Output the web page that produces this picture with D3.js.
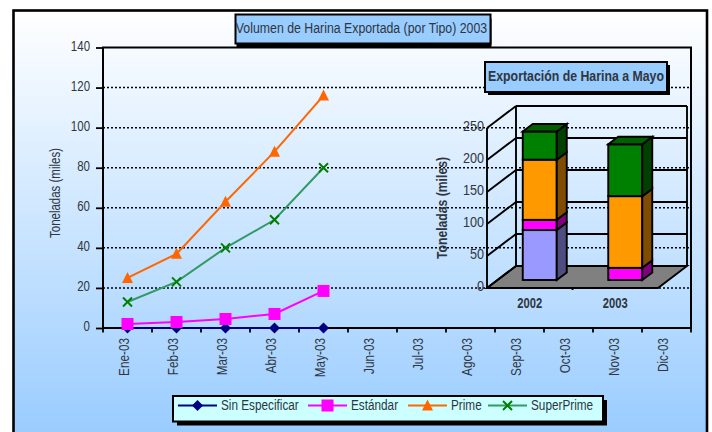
<!doctype html>
<html>
<head>
	<title>harina</title>
	<meta charset="utf-8">
	<script type="text/javascript" src="https://cdn.jsdelivr.net/npm/d3@7"></script>
	<style>
		body { margin: 0; background: #fff; }
		text { font-family: "Liberation Sans", sans-serif; fill: #2f3640; }
	</style>
</head>
<body>
<script type="text/javascript">
var months = ["Ene-03", "Feb-03", "Mar-03", "Abr-03", "May-03", "Jun-03", "Jul-03", "Ago-03", "Sep-03", "Oct-03", "Nov-03", "Dic-03"]
var sinEspecificar = [0, 0, 0, 0, 0]
var estandar = [2, 3, 4.5, 7, 18.5]
var prime = [25, 37, 63, 88, 116]
var superPrime = [13, 23, 40, 54, 80]
var yTicks = [0, 20, 40, 60, 80, 100, 120, 140]

var years = ["2002", "2003"]
var inTicks = [0, 50, 100, 150, 200, 250]
var sinByYear = [78, 0]
var estandarByYear = [16, 19]
var primeByYear = [94, 112]
var superByYear = [44, 81]

var width = 712
var height = 432
var svg = d3.select("body").append("svg")
	.attr("width", width)
	.attr("height", height)
	.style("display", "block")

// the original font is a narrow sans, squeeze the glyphs to get it
function narrow(sel, ratio) {
	sel.each(function() {
		this.setAttribute("textLength", this.getComputedTextLength() * ratio)
		this.setAttribute("lengthAdjust", "spacingAndGlyphs")
	})
}

var defs = svg.append("defs")
var grad = defs.append("linearGradient")
	.attr("id", "bg")
	.attr("x1", 0).attr("y1", 0).attr("x2", 0).attr("y2", 1)
grad.append("stop").attr("offset", "0").attr("stop-color", "#ffffff")
grad.append("stop").attr("offset", "1").attr("stop-color", "#99ccff")

// outer frame, runs off the bottom of the picture
svg.append("rect")
	.attr("x", 13.5).attr("y", 10.5)
	.attr("width", 693.5).attr("height", 425)
	.attr("fill", "url(#bg)")
	.attr("stroke", "#000")
	.attr("stroke-width", 2.6)

// main chart
var x = d3.scaleBand().domain(months).range([103, 691])
var y = d3.scaleLinear().domain([0, 140]).range([328, 47.5])

var grid = svg.append("g")
grid.selectAll("line")
	.data(yTicks.slice(1, -1))
	.enter()
	.append("line")
	.attr("x1", 103)
	.attr("x2", 691)
	.attr("y1", function(d) { return y(d) })
	.attr("y2", function(d) { return y(d) })
	.attr("stroke", "#000")
	.attr("stroke-width", 1.5)
	.attr("stroke-dasharray", "2 2")

svg.append("rect")
	.attr("x", 103).attr("y", y(140))
	.attr("width", 588).attr("height", y(0) - y(140))
	.attr("fill", "none")
	.attr("stroke", "#000")
	.attr("stroke-width", 2)

var yAxis = svg.append("g")
	.attr("transform", "translate(103,0)")
	.call(d3.axisLeft(y).tickValues(yTicks).tickSize(7).tickPadding(6))
yAxis.select(".domain").remove()
yAxis.selectAll("line").attr("stroke", "#000").attr("stroke-width", 1.8)
yAxis.selectAll("text").attr("font-size", 14).attr("dy", "0.18em").call(narrow, 0.82)

// x ticks sit on the band edges, so they are not the axis' own
svg.append("g").selectAll("line")
	.data(months)
	.enter()
	.append("line")
	.attr("x1", function(d) { return x(d) })
	.attr("x2", function(d) { return x(d) })
	.attr("y1", 328)
	.attr("y2", 332.5)
	.attr("stroke", "#000")
	.attr("stroke-width", 1.8)
svg.append("line")
	.attr("x1", 691).attr("x2", 691).attr("y1", 328).attr("y2", 332.5)
	.attr("stroke", "#000").attr("stroke-width", 1.8)

svg.append("g").selectAll("text")
	.data(months)
	.enter()
	.append("text")
	.attr("transform", function(d) {
		return "translate(" + (x(d) + x.bandwidth() / 2 + 1.5) + ",338) rotate(-90)"
	})
	.attr("text-anchor", "end")
	.attr("font-size", 14)
	.text(function(d) { return d })
	.call(narrow, 0.84)

svg.append("text")
	.attr("transform", "translate(60,193) rotate(-90)")
	.attr("text-anchor", "middle")
	.attr("font-size", 14)
	.text("Toneladas (miles)")
	.call(narrow, 0.82)

var line = d3.line()
	.x(function(d, i) { return x(months[i]) + x.bandwidth() / 2 })
	.y(function(d) { return y(d) })

function marker(g, type, color) {
	if (type == "diamond") {
		g.append("path").attr("d", "M0,-5.5L5.5,0L0,5.5L-5.5,0Z").attr("fill", color)
	}
	if (type == "square") {
		g.append("rect").attr("x", -6).attr("y", -6).attr("width", 12).attr("height", 12).attr("fill", color)
	}
	if (type == "triangle") {
		g.append("path").attr("d", "M0,-6L5.5,5L-5.5,5Z").attr("fill", color)
	}
	if (type == "cross") {
		g.append("path").attr("d", "M-4.5,-4.5L4.5,4.5M4.5,-4.5L-4.5,4.5").attr("stroke", color).attr("stroke-width", 2).attr("fill", "none")
	}
}

var seriesList = [
	{name: "Sin Especificar", values: sinEspecificar, color: "#000080", mark: "diamond", markColor: "#000080"},
	{name: "Estándar", values: estandar, color: "#ff00ff", mark: "square", markColor: "#ff00ff"},
	{name: "Prime", values: prime, color: "#ff6600", mark: "triangle", markColor: "#ff6600"},
	{name: "SuperPrime", values: superPrime, color: "#339966", mark: "cross", markColor: "#008000"}
]

seriesList.forEach(function(s) {
	svg.append("path")
		.attr("d", line(s.values))
		.attr("fill", "none")
		.attr("stroke", s.color)
		.attr("stroke-width", 2)
	s.values.forEach(function(v, i) {
		var g = svg.append("g")
			.attr("transform", "translate(" + (x(months[i]) + x.bandwidth() / 2) + "," + y(v) + ")")
		marker(g, s.mark, s.markColor)
	})
})

// boxes with a hard black shadow
function box(bx, by, bw, bh, fill, sx, sy) {
	svg.append("rect").attr("x", bx + sx).attr("y", by + sy).attr("width", bw).attr("height", bh).attr("fill", "#000")
	svg.append("rect").attr("x", bx).attr("y", by).attr("width", bw).attr("height", bh)
		.attr("fill", fill).attr("stroke", "#000").attr("stroke-width", 2)
}

box(235.5, 14.5, 255, 29, "#99ccff", 1, 4)
svg.append("text")
	.attr("x", 361.5).attr("y", 33)
	.attr("text-anchor", "middle")
	.attr("font-size", 14)
	.text("Volumen de Harina Exportada (por Tipo) 2003")
	.call(narrow, 0.88)

// legend
box(173, 396, 430, 25.5, "#ccffff", 4, 4)
var legendItems = svg.append("g").selectAll("g")
	.data(seriesList)
	.enter()
	.append("g")
	.attr("transform", function(d, i) {
		return "translate(" + [178, 308, 408, 488][i] + ",405.5)"
	})
legendItems.append("line")
	.attr("x1", 0).attr("x2", 39)
	.attr("stroke", function(d) { return d.color })
	.attr("stroke-width", 2)
legendItems.each(function(d) {
	marker(d3.select(this).append("g").attr("transform", "translate(19.5,0)"), d.mark, d.markColor)
})
legendItems.append("text")
	.attr("x", 43).attr("y", 4.5)
	.attr("font-size", 14)
	.text(function(d) { return d.name })
	.call(narrow, 0.84)

// inset 3D stacked columns
var depthX = 29
var depthY = 22
var inX = d3.scaleBand().domain(years).range([487, 658])
var inY = d3.scaleLinear().domain([0, 250]).range([288, 128])
var inset = svg.append("g")
	.attr("fill", "none")
	.attr("stroke", "#000")
	.attr("stroke-width", 1.9)

inset.append("path")
	.attr("d", "M" + inX.range()[0] + "," + inY(0) + "l" + depthX + "," + (-depthY) + "H" + (inX.range()[1] + depthX) + "l" + (-depthX) + "," + depthY + "Z")
	.attr("fill", "#808080")

inset.selectAll("line.back")
	.data(inTicks)
	.enter()
	.append("line")
	.attr("class", "back")
	.attr("x1", 487 + depthX)
	.attr("x2", 658 + depthX)
	.attr("y1", function(d) { return inY(d) - depthY })
	.attr("y2", function(d) { return inY(d) - depthY })
inset.selectAll("line.side")
	.data(inTicks)
	.enter()
	.append("line")
	.attr("class", "side")
	.attr("x1", 487)
	.attr("x2", 487 + depthX)
	.attr("y1", function(d) { return inY(d) })
	.attr("y2", function(d) { return inY(d) - depthY })
inset.append("line")
	.attr("x1", 487).attr("x2", 487).attr("y1", inY(0)).attr("y2", inY(250))
inset.append("line")
	.attr("x1", 487 + depthX).attr("x2", 487 + depthX).attr("y1", inY(0) - depthY).attr("y2", inY(250) - depthY)
inset.append("line")
	.attr("x1", 658 + depthX).attr("x2", 658 + depthX).attr("y1", inY(0) - depthY).attr("y2", inY(250) - depthY)

var stackSeries = [
	{values: sinByYear, front: "#9999ff", side: "#4d4d80", top: "#9999ff"},
	{values: estandarByYear, front: "#ff00ff", side: "#800080", top: "#ff00ff"},
	{values: primeByYear, front: "#ff9900", side: "#804d00", top: "#ff9900"},
	{values: superByYear, front: "#008000", side: "#004000", top: "#006000"}
]
var barW = 34
var barDx = 10
var barDy = 7.5
var barShiftX = 10
var barShiftY = 8

years.forEach(function(yr, k) {
	var base = 0
	var left = inX(yr) + inX.bandwidth() / 2 + barShiftX - barW / 2
	var nSeries = stackSeries.filter(function(s) { return s.values[k] > 0 })
	nSeries.forEach(function(s, n) {
		var y0 = inY(base) - barShiftY
		var y1 = inY(base + s.values[k]) - barShiftY
		inset.append("rect")
			.attr("x", left).attr("y", y1)
			.attr("width", barW).attr("height", y0 - y1)
			.attr("fill", s.front)
		inset.append("path")
			.attr("d", "M" + (left + barW) + "," + y0 + "l" + barDx + "," + (-barDy) + "V" + (y1 - barDy) + "l" + (-barDx) + "," + barDy + "Z")
			.attr("fill", s.side)
		if (n == nSeries.length - 1) {
			inset.append("path")
				.attr("d", "M" + left + "," + y1 + "l" + barDx + "," + (-barDy) + "h" + barW + "l" + (-barDx) + "," + barDy + "Z")
				.attr("fill", s.top)
		}
		base += s.values[k]
	})
})

inset.append("line")
	.attr("x1", inX.range()[0] + inX.bandwidth()).attr("x2", inX.range()[0] + inX.bandwidth())
	.attr("y1", 288).attr("y2", 290)

svg.append("g").selectAll("text")
	.data(inTicks)
	.enter()
	.append("text")
	.attr("x", 484)
	.attr("y", function(d) { return inY(d) + 3 })
	.attr("text-anchor", "end")
	.attr("font-size", 14)
	.text(function(d) { return d })
	.call(narrow, 0.9)

svg.append("g").selectAll("text")
	.data(years)
	.enter()
	.append("text")
	.attr("x", function(d) { return inX(d) + inX.bandwidth() / 2 })
	.attr("y", 308)
	.attr("text-anchor", "middle")
	.attr("font-size", 14)
	.attr("font-weight", "bold")
	.text(function(d) { return d })
	.call(narrow, 0.8)

svg.append("text")
	.attr("transform", "translate(447,208) rotate(-90)")
	.attr("text-anchor", "middle")
	.attr("font-size", 14)
	.attr("font-weight", "bold")
	.text("Toneladas (miles)")
	.call(narrow, 0.87)

box(485, 62, 182, 30, "#99ccff", 3, 3)
svg.append("text")
	.attr("x", 576).attr("y", 81)
	.attr("text-anchor", "middle")
	.attr("font-size", 14)
	.attr("font-weight", "bold")
	.text("Exportación de Harina a Mayo")
	.call(narrow, 0.88)
</script>
</body>
</html>
